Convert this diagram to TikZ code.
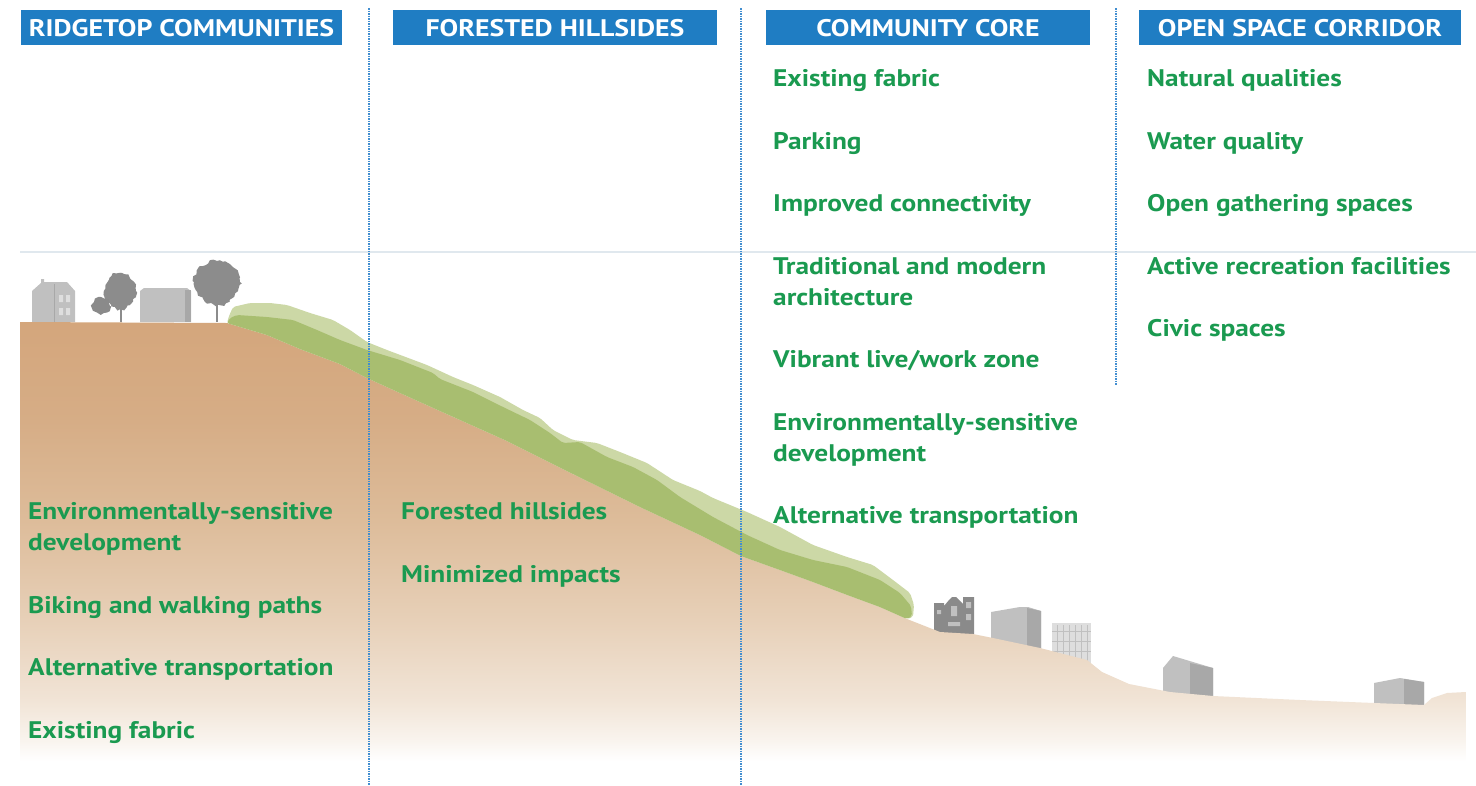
\documentclass[tikz,border=0pt]{standalone}
\usepackage{fontspec}
\usetikzlibrary{decorations.pathmorphing}
\newfontfamily\itemfont[FakeStretch=1.14]{PT Sans}
\newfontfamily\headfont[FakeStretch=1.16]{PT Sans}
\definecolor{headblue}{RGB}{31,125,195}
\definecolor{itemgreen}{RGB}{26,154,80}
\definecolor{guideblue}{RGB}{66,142,208}
\definecolor{hazeline}{RGB}{224,232,238}
\definecolor{leafpale}{RGB}{204,216,166}
\definecolor{leafdeep}{RGB}{168,190,112}
\definecolor{soilA}{RGB}{212,166,124}
\definecolor{soilB}{RGB}{214,173,134}
\definecolor{soilC}{RGB}{221,188,154}
\definecolor{soilD}{RGB}{231,208,184}
\definecolor{soilE}{RGB}{241,228,214}
\definecolor{soilF}{RGB}{249,244,238}
\definecolor{treegray}{RGB}{140,140,140}
\definecolor{bldglight}{RGB}{192,192,192}
\definecolor{bldgmid}{RGB}{168,168,168}
\definecolor{bldgdark}{RGB}{138,138,138}
\definecolor{bldgpale}{RGB}{222,222,222}
% soil colour running from the ridge top down to white at the foot
\pgfdeclareverticalshading{soil}{100bp}{color(0bp)=(white); color(26bp)=(white); color(28.3bp)=(soilF); color(32.8bp)=(soilE); color(41.7bp)=(soilD); color(52.8bp)=(soilC); color(63.9bp)=(soilB); color(75bp)=(soilA); color(100bp)=(soilA)}
\tikzset{
  head/.style={fill=headblue, text=white, inner sep=0pt, minimum height=35pt,
    text height=17pt, text depth=0pt,
    font=\headfont\bfseries\fontsize{24}{24}\selectfont},
  item/.style={text=itemgreen, inner sep=0pt, anchor=base west, align=left,
    font=\itemfont\bfseries\fontsize{24}{31}\selectfont},
  guide/.style={guideblue, line width=1.8pt, dash pattern=on 1.5pt off 1pt},
  bldg/.style={fill=bldglight},
  bldgside/.style={fill=bldgmid},
  tree/.style={fill=treegray},
  crown/.style={fill=treegray, decorate,
    decoration={random steps, segment length=3pt, amplitude=1.6pt}},
}
\begin{document}
\begin{tikzpicture}[x=1pt, y=-1pt]
\pgfmathsetseed{7}
\useasboundingbox (0,0) rectangle (1476,785);
\fill[white] (0,0) rectangle (1476,785);

% faint horizon rule
\coordinate (hzL) at (20,252);
\coordinate (hzR) at (1476,252);
\draw[hazeline, line width=1.3pt] (hzL) -- (hzR);

% ---- ridgetop buildings and trees ----
\fill[bldg] (32,322) -- (32,291) -- (41,283) -- (41,279) -- (44,279) -- (44,282)
  -- (67,282) -- (75,291) -- (75,322) -- cycle;
\draw[bldgmid, line width=1pt] (54,284) -- (54,322);
\fill[bldgpale] (59,295) rectangle (63,302) (66,295) rectangle (70,302)
  (59,308) rectangle (63,315) (66,308) rectangle (70,315);
% small tree and bush
\fill[tree] (119.5,303) rectangle (121.5,322);
\fill[crown] (120,291) ellipse[x radius=16pt, y radius=18pt];
\fill[bldgdark, decorate, decoration={random steps, segment length=3pt, amplitude=1.2pt}]
  (101,306) ellipse[x radius=9pt, y radius=8pt];
% box building
\fill[bldg] (140,322) -- (140,291) -- (144,288) -- (187,288) -- (191,291) -- (191,322) -- cycle;
\fill[bldgside] (185,290) rectangle (191,322);
% tall tree
\fill[tree] (215.5,295) rectangle (218,322);
\fill[crown] (217,282) ellipse[x radius=23pt, y radius=21pt];
\fill[crown] (217,298) ellipse[x radius=14pt, y radius=7pt];

% ---- valley buildings ----
\fill[bldgdark] (934,634) -- (934,603) -- (944,603) -- (944,606) -- (949,600) -- (952,597)
  -- (956,597) -- (959,600) -- (963,604) -- (963,597) -- (974,597) -- (974,634) -- cycle;
\fill[bldglight] (951,606) rectangle (957,616) (937,610) rectangle (941,614)
  (966,602) rectangle (971,608) (966,614) rectangle (971,620) (948,622) rectangle (960,626);
\fill[bldglight] (991,652) -- (991,612) -- (1020,607) -- (1028,607) -- (1041,611) -- (1041,652) -- cycle;
\fill[bldgside] (1027,608) -- (1041,611) -- (1041,652) -- (1027,652) -- cycle;
\fill[bldgpale] (1052,623) rectangle (1091,664);
\foreach \gx in {1057,1063,1069,1075,1081,1087}
  \draw[bldglight, line width=1pt] (\gx,625) -- (\gx,664);
\foreach \gy in {631,641,651}
  \draw[bldglight, line width=1pt] (1052,\gy) -- (1091,\gy);
\fill[bldglight] (1163,699) -- (1163,668) -- (1173,656) -- (1213,668) -- (1213,699) -- cycle;
\fill[bldgside] (1190,663) -- (1213,668) -- (1213,699) -- (1190,699) -- cycle;
\fill[bldglight] (1374,707) -- (1374,683) -- (1400,678) -- (1424,682) -- (1424,707) -- cycle;
\fill[bldgside] (1404,679) -- (1424,682) -- (1424,707) -- (1404,707) -- cycle;

% ---- terrain ----
\path[shading=soil] (20,322) -- (227,323) -- (267,335) -- (300,349) -- (340,364) -- (367,378)
  -- (400,393) -- (440,411) -- (507,441) -- (573,474) -- (640,507) -- (700,535) -- (741,556)
  -- (780,570) -- (813,582) -- (850,596) -- (880,607) -- (907,619) -- (940,632) -- (973,634)
  -- (993,638) -- (1040,648) -- (1087,660) -- (1102,672) -- (1129,684) -- (1170,692)
  -- (1213,696) -- (1300,700) -- (1374,703) -- (1424,705) -- (1432,698) -- (1447,693)
  -- (1466,692) -- (1466,770) -- (20,770) -- cycle;

% forest canopy: pale outer layer, then deeper inner layer
\fill[leafpale, rounded corners=2pt] (227,323) -- (229,316) -- (233,307) -- (250,303) -- (270,303)
  -- (287,305) -- (310,313) -- (333,320) -- (350,330) -- (367,342) -- (387,350) -- (427,365)
  -- (453,377) -- (473,385) -- (500,397) -- (523,410) -- (540,418) -- (553,430) -- (573,440)
  -- (597,443) -- (620,452) -- (647,463) -- (673,480) -- (700,491) -- (713,498) -- (747,512)
  -- (780,527) -- (813,545) -- (847,557) -- (873,565) -- (893,580) -- (910,593) -- (914,605)
  -- (913,617) -- (907,619)
  -- (880,607) -- (850,596) -- (813,582) -- (780,570) -- (741,556) -- (700,535) -- (640,507)
  -- (573,474) -- (507,441) -- (440,411) -- (400,393) -- (367,378) -- (340,364) -- (300,349)
  -- (267,335) -- cycle;
\fill[leafdeep, rounded corners=2pt] (227,323) -- (230,318) -- (237,315) -- (267,317) -- (293,320)
  -- (317,330) -- (340,340) -- (367,350) -- (400,360) -- (433,373) -- (440,379) -- (473,392)
  -- (503,407) -- (530,420) -- (550,433) -- (563,443) -- (580,442) -- (607,457) -- (633,467)
  -- (657,480) -- (680,497) -- (713,517) -- (747,535) -- (780,550) -- (813,560) -- (847,567)
  -- (880,580) -- (900,593) -- (911,606) -- (912,616) -- (907,619)
  -- (880,607) -- (850,596) -- (813,582) -- (780,570) -- (741,556) -- (700,535) -- (640,507)
  -- (573,474) -- (507,441) -- (440,411) -- (400,393) -- (367,378) -- (340,364) -- (300,349)
  -- (267,335) -- cycle;

% ---- column dividers ----
\coordinate (d1t) at (369,8);   \coordinate (d1b) at (369,785);
\coordinate (d2t) at (741,8);   \coordinate (d2b) at (741,785);
\coordinate (d3t) at (1116,8);  \coordinate (d3b) at (1116,385);
\draw[guide] (d1t) -- (d1b);
\draw[guide] (d2t) -- (d2b);
\draw[guide] (d3t) -- (d3b);

% ---- headers ----
\node[head, minimum width=321pt] (h1) at (181.5,27.5) {RIDGETOP COMMUNITIES};
\node[head, minimum width=324pt] (h2) at (555,27.5) {FORESTED HILLSIDES};
\node[head, minimum width=324pt] (h3) at (928,27.5) {COMMUNITY CORE};
\node[head, minimum width=322pt] (h4) at (1300,27.5) {OPEN SPACE CORRIDOR};

% ---- ridgetop communities (two-line items anchored on their last line) ----
\node[item] (r1) at (28,550.5) {Environmentally-sensitive\\development};
\node[item] (r2) at (28,613) {Biking and walking paths};
\node[item] (r3) at (28,675.5) {Alternative transportation};
\node[item] (r4) at (28,738) {Existing fabric};
% ---- forested hillsides ----
\node[item] (f1) at (401,519.5) {Forested hillsides};
\node[item] (f2) at (401,582) {Minimized impacts};
% ---- community core ----
\node[item] (c1) at (773,86.5) {Existing fabric};
\node[item] (c2) at (773,149) {Parking};
\node[item] (c3) at (773,211.5) {Improved connectivity};
\node[item] (c4) at (773,305) {Traditional and modern\\architecture};
\node[item] (c5) at (773,367.5) {Vibrant live/work zone};
\node[item] (c6) at (773,461) {Environmentally-sensitive\\development};
\node[item] (c7) at (773,523.5) {Alternative transportation};
% ---- open space corridor ----
\node[item] (o1) at (1147,86.5) {Natural qualities};
\node[item] (o2) at (1147,149) {Water quality};
\node[item] (o3) at (1147,211.5) {Open gathering spaces};
\node[item] (o4) at (1147,274) {Active recreation facilities};
\node[item] (o5) at (1147,336.5) {Civic spaces};
\end{tikzpicture}
\end{document}
